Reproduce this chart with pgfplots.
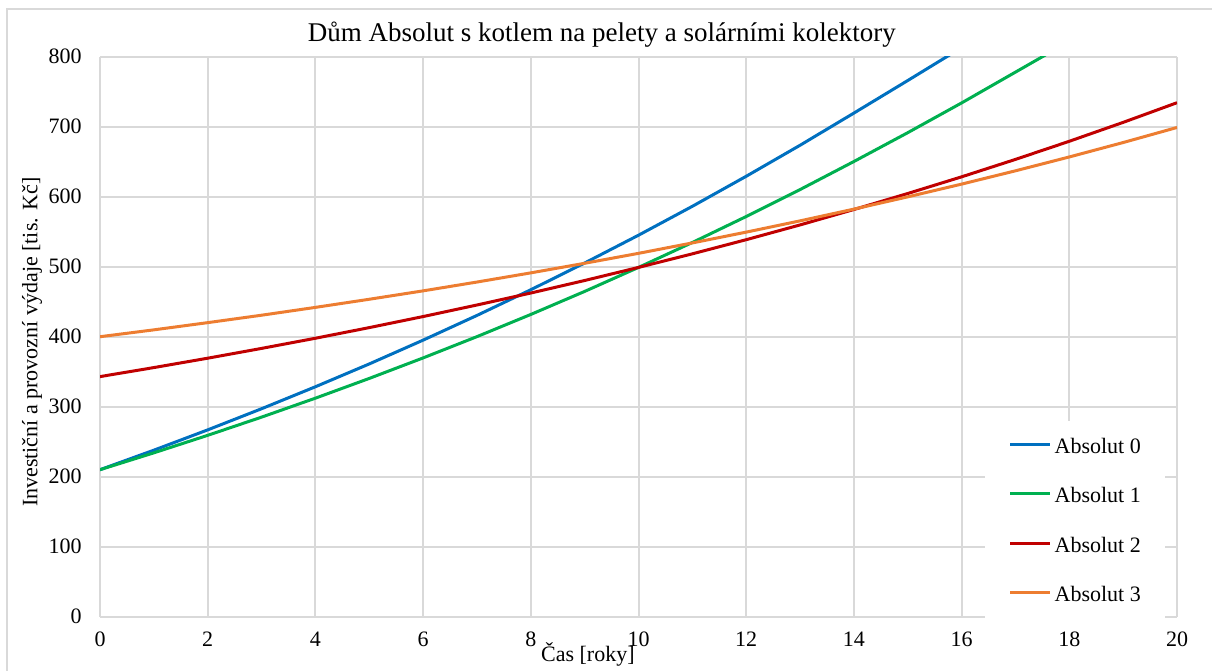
\documentclass[border=0pt]{standalone}
\usepackage{pgfplots}
\pgfplotsset{compat=1.18}
\usepackage{fontspec}
\setmainfont{Liberation Serif}
\definecolor{cBlue}{HTML}{0070C0}
\definecolor{cGreen}{HTML}{00B050}
\definecolor{cRed}{HTML}{C00000}
\definecolor{cOrange}{HTML}{ED7D31}
\definecolor{gridc}{HTML}{D9D9D9}
\begin{document}
\begin{tikzpicture}[x=1bp,y=1bp]
\useasboundingbox (0,0) rectangle (606,335);
\draw[gridc, line width=1bp] (3.5,-2) -- (3.5,330.5) -- (608,330.5);
\begin{axis}[
  at={(50bp,26.65bp)}, anchor=south west,
  scale only axis, width=538.5bp, height=280bp,
  xmin=0, xmax=20, ymin=0, ymax=800,
  xtick={0,2,...,20}, ytick={0,100,...,800},
  grid=major, major grid style={gridc, line width=1bp},
  axis line style={draw=none}, major tick length=0pt,
  /pgf/number format/assume math mode=true,
  tick label style={font=\fontsize{11bp}{13bp}\selectfont, inner sep=0pt},
  yticklabel style={anchor=east, xshift=-9bp},
  xticklabel style={anchor=north, yshift=-7.5bp},
  title={Dům Absolut s kotlem na pelety a solárními kolektory},
  title style={font=\fontsize{13.5bp}{15bp}\selectfont, at={(axis description cs:0.466,1)}, anchor=center, yshift=5bp},
  xlabel={Čas [roky]},
  xlabel style={font=\fontsize{11bp}{13bp}\selectfont, at={(axis description cs:0.453,-0.068)}, anchor=center},
  ylabel={Investiční a provozní výdaje [tis. Kč]},
  ylabel style={font=\fontsize{11bp}{13bp}\selectfont, at={(axis description cs:-0.063,0.49)}, anchor=center},
  legend style={at={(axis cs:16.42,279.6)}, anchor=north west, fill=white, draw=none,
    inner xsep=12bp, inner ysep=8.6bp, font=\fontsize{11bp}{13bp}\selectfont,
    row sep=17.3bp, nodes={inner sep=0pt, text height=7.4bp, text depth=0pt}},
  legend cell align=left,
  legend image code/.code={\draw[#1] (0bp,0.7bp) -- (20bp,0.7bp); \path (21.5bp,0bp);},
  every axis plot/.append style={line width=1.5bp},
]
\addplot[cBlue] coordinates {(0,210) (1,237.9) (2,266.9) (3,297.1) (4,328.5) (5,361.1) (6,395.1) (7,430.4) (8,467.1) (9,505.3) (10,545.0) (11,586.3) (12,629.2) (13,673.5) (14,719.5) (15,766.0) (16,813.0) (17,862.0) (18,912.0) (19,963.0) (20,1015.0)};
\addlegendentry{Absolut 0}
\addplot[cGreen] coordinates {(0,210) (1,234.1) (2,259.1) (3,285.1) (4,312.2) (5,340.4) (6,369.7) (7,400.1) (8,431.8) (9,464.7) (10,499.0) (11,534.6) (12,571.7) (13,610.2) (14,650.3) (15,691.5) (16,734.0) (17,778.0) (18,822.0) (19,868.0) (20,916.0)};
\addlegendentry{Absolut 1}
\addplot[cRed] coordinates {(0,343) (1,355.9) (2,369.3) (3,383.3) (4,397.8) (5,413.0) (6,428.8) (7,445.3) (8,462.4) (9,480.3) (10,499.0) (11,518.4) (12,538.6) (13,559.7) (14,581.7) (15,604.6) (16,628.4) (17,653.3) (18,679.2) (19,706.2) (20,734.3)};
\addlegendentry{Absolut 2}
\addplot[cOrange] coordinates {(0,400) (1,409.8) (2,420.1) (3,430.7) (4,441.9) (5,453.5) (6,465.5) (7,478.1) (8,491.2) (9,504.9) (10,519.1) (11,534.0) (12,549.4) (13,565.5) (14,582.3) (15,599.8) (16,618.0) (17,637.0) (18,656.8) (19,677.4) (20,698.9)};
\addlegendentry{Absolut 3}
\end{axis}
\end{tikzpicture}
\end{document}
